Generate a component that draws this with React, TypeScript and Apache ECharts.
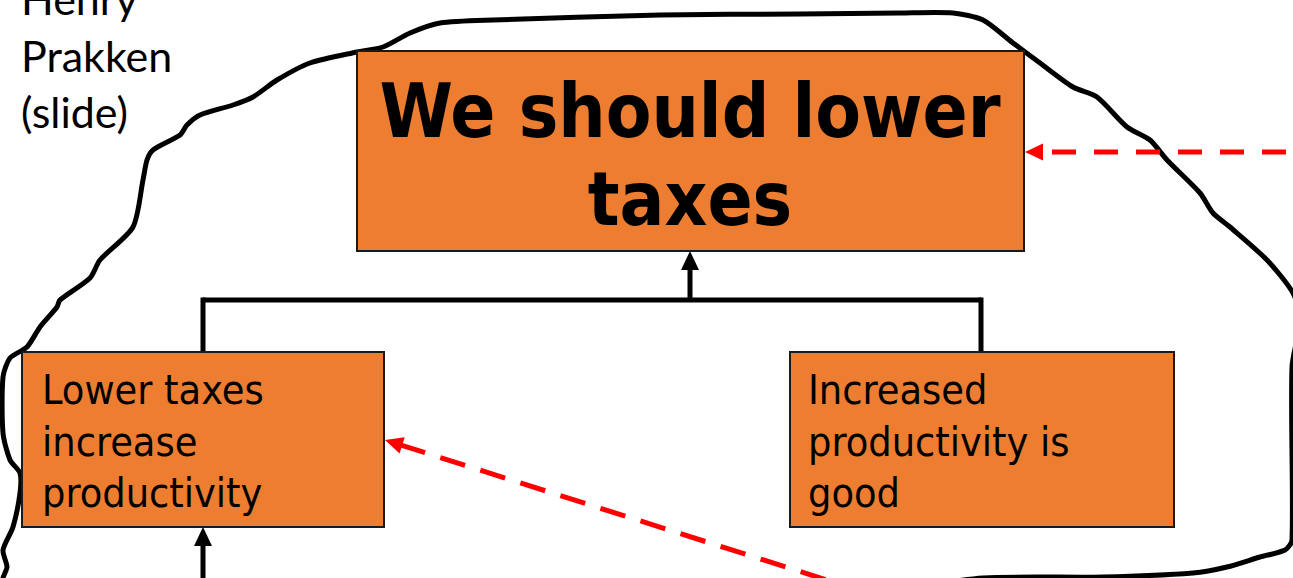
import React, { useEffect, useRef } from "react";
import * as echarts from "echarts";

const titleLines = ["We should lower", "taxes"];
const leftLines = ["Lower taxes", "increase", "productivity"];
const rightLines = ["Increased", "productivity is", "good"];
const creditLines = ["Henry", "Prakken", "(slide)"];

const ORANGE = "#ED7D31";
const RED = "#FF0000";
const FONT = "'DejaVu Sans Condensed', 'DejaVu Sans', sans-serif";

const blobPoints: number[][] = [
  [3, 590], [3, 578], [7, 567], [3, 550], [13, 527], [20, 493], [20, 473], [10, 460], [3, 433],
  [3, 377], [10, 358], [27, 347], [40, 327], [57, 307], [60, 300], [90, 278], [100, 260],
  [133, 227], [143, 180], [147, 160], [153, 150], [180, 135], [187, 125], [200, 115], [233, 105],
  [253, 97], [277, 80], [310, 63], [357, 52], [383, 47], [410, 33], [440, 23], [493, 20],
  [660, 15], [800, 14], [900, 13], [953, 13], [983, 20], [1013, 43], [1040, 63], [1073, 87],
  [1097, 97], [1127, 127], [1150, 140], [1167, 160], [1200, 193], [1213, 213], [1230, 227],
  [1267, 260], [1293, 293], [1300, 320], [1292, 367], [1292, 540], [1285, 550], [1260, 557],
  [1227, 567], [1193, 573], [1103, 577], [983, 578], [900, 590]
];

function textLines(lines: string[], x: number, ys: number[], size: number, weight: string, align: string, family: string) {
  return lines.map((t, i) => ({
    type: "text",
    x,
    y: ys[i],
    z: 20,
    style: {
      text: t,
      fill: "#000",
      fontSize: size,
      fontWeight: weight,
      fontFamily: family,
      align,
      verticalAlign: "middle",
    },
  }));
}

export default function App() {
  const ref = useRef<HTMLDivElement>(null);
  useEffect(() => {
    if (!ref.current) return;
    const chart = echarts.init(ref.current, null, { renderer: "svg" });
    const dir = [0.953, 0.302];
    const perp = [-0.302, 0.953];
    const tip2 = [385, 440];
    const base2 = [tip2[0] + dir[0] * 18, tip2[1] + dir[1] * 18];
    const graphic: any[] = [
      {
        type: "rect",
        shape: { x: 0, y: 0, width: 1293, height: 578 },
        style: { fill: "#fff" },
        z: 0,
      },
      {
        type: "polyline",
        shape: { points: blobPoints, smooth: 0.25 },
        style: { stroke: "#000", lineWidth: 5, fill: "none", lineJoin: "round", lineCap: "round" },
        z: 1,
      },
      // connectors
      { type: "line", shape: { x1: 203, y1: 300, x2: 981, y2: 300 }, style: { stroke: "#000", lineWidth: 5 }, z: 5 },
      { type: "line", shape: { x1: 203, y1: 297.5, x2: 203, y2: 352 }, style: { stroke: "#000", lineWidth: 5 }, z: 5 },
      { type: "line", shape: { x1: 981, y1: 297.5, x2: 981, y2: 352 }, style: { stroke: "#000", lineWidth: 5 }, z: 5 },
      { type: "line", shape: { x1: 690, y1: 302, x2: 690, y2: 266 }, style: { stroke: "#000", lineWidth: 5 }, z: 5 },
      { type: "polygon", shape: { points: [[690, 251], [681, 270], [699, 270]] }, style: { fill: "#000" }, z: 5 },
      { type: "line", shape: { x1: 203, y1: 600, x2: 203, y2: 540 }, style: { stroke: "#000", lineWidth: 5 }, z: 5 },
      { type: "polygon", shape: { points: [[203, 527], [194, 546], [212, 546]] }, style: { fill: "#000" }, z: 5 },
      // boxes
      {
        type: "rect",
        shape: { x: 357, y: 51, width: 667, height: 200 },
        style: { fill: ORANGE, stroke: "#1a1a1a", lineWidth: 2 },
        z: 10,
      },
      {
        type: "rect",
        shape: { x: 22, y: 352, width: 362, height: 175 },
        style: { fill: ORANGE, stroke: "#1a1a1a", lineWidth: 2 },
        z: 10,
      },
      {
        type: "rect",
        shape: { x: 790, y: 352, width: 384, height: 175 },
        style: { fill: ORANGE, stroke: "#1a1a1a", lineWidth: 2 },
        z: 10,
      },
      // red dashed arrows
      {
        type: "line",
        shape: { x1: 1052, y1: 152, x2: 1310, y2: 152 },
        style: { stroke: RED, lineWidth: 5, lineDash: [24, 18] },
        z: 15,
      },
      {
        type: "polygon",
        shape: { points: [[1025, 152], [1043, 143.5], [1043, 160.5]] },
        style: { fill: RED },
        z: 15,
      },
      {
        type: "line",
        shape: { x1: base2[0] - dir[0] * 2, y1: base2[1] - dir[1] * 2, x2: tip2[0] + dir[0] * 580, y2: tip2[1] + dir[1] * 580 },
        style: { stroke: RED, lineWidth: 5, lineDash: [26, 16] },
        z: 15,
      },
      {
        type: "polygon",
        shape: {
          points: [
            tip2,
            [base2[0] + perp[0] * 8.5, base2[1] + perp[1] * 8.5],
            [base2[0] - perp[0] * 8.5, base2[1] - perp[1] * 8.5],
          ],
        },
        style: { fill: RED },
        z: 15,
      },
      ...textLines(titleLines, 690, [111, 199], 74, "bold", "center", FONT),
      ...textLines(leftLines, 42, [390, 442, 493], 41, "normal", "left", FONT),
      ...textLines(rightLines, 808, [390, 442, 493], 41, "normal", "left", FONT),
      ...textLines(creditLines, 21, [-1.5, 55.5, 111.5], 43, "normal", "left", "Lato, 'Open Sans', sans-serif"),
    ];
    chart.setOption({ animation: false, graphic });
    return () => chart.dispose();
  }, []);
  return (
    <div
      ref={ref}
      style={{ position: "fixed", left: 0, top: 0, width: 1293, height: 578, background: "#fff" }}
    />
  );
}
